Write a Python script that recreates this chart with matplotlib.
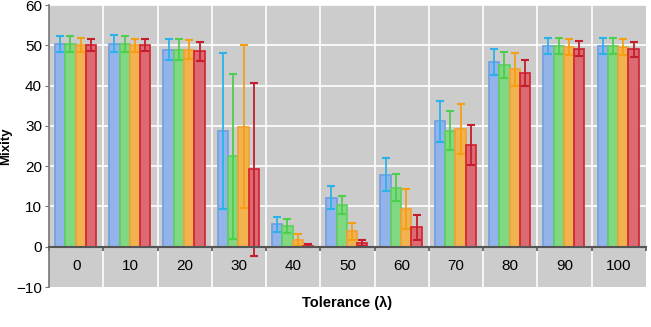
import numpy as np
import matplotlib
matplotlib.use('Agg')
from matplotlib import pyplot as plt

plt.rcParams['font.family'] = ['Liberation Sans', 'DejaVu Sans']

# tolerance categories
tolerance = ['0', '10', '20', '30', '40', '50', '60', '70', '80', '90', '100']

# mixity means for the four series
blue = [50.4, 50.4, 48.9, 28.8, 5.6, 12.2, 17.9, 31.1, 45.9, 49.9, 49.9]
green = [50.3, 50.3, 48.9, 22.4, 5.2, 10.4, 14.7, 28.8, 45.2, 49.9, 49.9]
orange = [50.0, 50.0, 48.9, 29.8, 1.7, 3.8, 9.4, 29.2, 44.1, 49.5, 49.5]
red = [50.0, 50.0, 48.5, 19.2, 0.3, 0.9, 4.8, 25.2, 43.1, 49.2, 49.0]

# error bar half-lengths
blue_err = [2.0, 2.1, 2.6, 19.4, 1.9, 2.8, 4.0, 5.1, 3.3, 2.0, 2.0]
green_err = [2.0, 2.0, 2.6, 20.5, 1.7, 2.3, 3.4, 4.9, 3.2, 2.0, 2.0]
orange_err = [1.7, 1.6, 2.4, 20.3, 1.4, 2.2, 5.0, 6.2, 4.1, 2.0, 2.0]
red_err = [1.5, 1.5, 2.3, 21.5, 0.3, 0.7, 3.1, 5.0, 3.3, 1.8, 1.8]

series = [
    (blue, blue_err, '#93b4ea', '#6f9fe2', '#2cb2ea'),
    (green, green_err, '#80d880', '#5fcf5f', '#4ccf4c'),
    (orange, orange_err, '#f3b250', '#f0a232', '#f5a012'),
    (red, red_err, '#dc6a72', '#d3202e', '#c41e2c'),
]

fig = plt.figure(figsize=(6.51, 3.27), dpi=100)
ax = fig.add_axes([0.0753, 0.1223, 0.9167, 0.8624])
ax.set_facecolor('#cccccc')

x = np.arange(len(tolerance))
w = 0.19
for i, (vals, errs, fill, edge, ecol) in enumerate(series):
    pos = x + (i - 1.5) * w - 0.01
    ax.bar(pos, vals, width=w, color=fill, edgecolor=edge, linewidth=1.2, zorder=3)
    ax.errorbar(pos, vals, yerr=errs, fmt='none', ecolor=ecol, elinewidth=1.3,
                capsize=3, capthick=1.5, zorder=4)

ax.set_xlim(-0.5, len(tolerance) - 0.5)
ax.set_ylim(-10, 60)
ax.set_yticks(np.arange(-10, 61, 10))

# white grid
for yv in range(0, 61, 10):
    ax.axhline(yv, color='white', linewidth=1.2, zorder=1)
for xv in np.arange(0.5, len(tolerance) - 0.5, 1):
    ax.axvline(xv, color='white', linewidth=1.2, zorder=1)

# category axis sits at zero
ax.spines['bottom'].set_position(('data', 0))
ax.spines['bottom'].set_color('#555555')
ax.spines['bottom'].set_linewidth(1.5)
ax.spines['bottom'].set_zorder(5)
ax.spines['left'].set_color('#777777')
ax.spines['left'].set_linewidth(1.2)
ax.spines['top'].set_visible(False)
ax.spines['right'].set_visible(False)

ax.set_xticks(x)
ax.set_xticklabels(tolerance, fontsize=11)
ax.tick_params(axis='x', which='major', length=0, pad=9)
ax.set_xticks(np.arange(-0.5, len(tolerance), 1), minor=True)
ax.tick_params(axis='x', which='minor', length=3, color='#555555', width=1.2)
ax.tick_params(axis='y', length=3, color='#777777', labelsize=11, pad=2)

fig.text(6 / 651, 1 - 146 / 327, 'Mixity', fontsize=9.5, fontweight='bold',
         rotation=90, ha='center', va='center')
fig.text(0.533, 0.073, 'Tolerance (\u03bb)', fontsize=10.5, fontweight='bold',
         ha='center', va='center')

fig.savefig('out.png', dpi=100)
